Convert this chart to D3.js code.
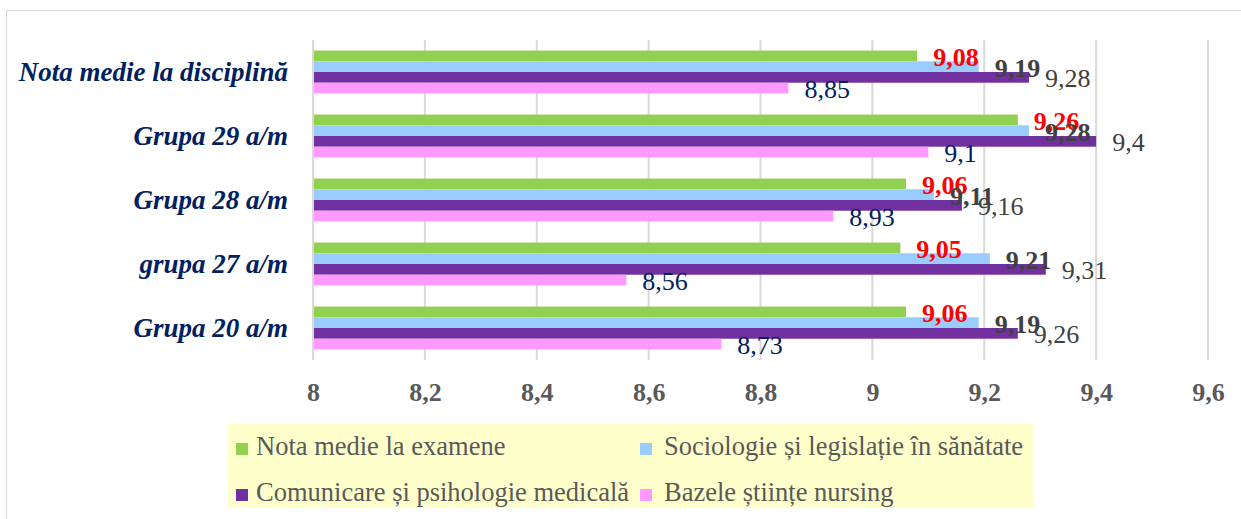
<!DOCTYPE html>
<html>
<head>
<meta charset="utf-8">
<script src="https://cdn.jsdelivr.net/npm/d3@7"></script>
<style>
body { margin: 0; background: #fff; }
text { font-family: "Liberation Serif", "Times New Roman", serif; }
</style>
</head>
<body>
<div id="the_chart"></div>
<script>
// categories, top to bottom
var categories = ["Nota medie la disciplină", "Grupa 29 a/m", "Grupa 28 a/m", "grupa 27 a/m", "Grupa 20 a/m"];
var seriesNames = ["Nota medie la examene", "Sociologie și legislație în sănătate",
                   "Comunicare și psihologie medicală", "Bazele științe nursing"];
var examene    = [9.08, 9.26, 9.06, 9.05, 9.06];
var sociologie = [9.19, 9.28, 9.11, 9.21, 9.19];
var comunicare = [9.28, 9.4, 9.16, 9.31, 9.26];
var bazele     = [8.85, 9.1, 8.93, 8.56, 8.73];
var ticks = [8, 8.2, 8.4, 8.6, 8.8, 9, 9.2, 9.4, 9.6];

var colors = ["#92d050", "#99ccff", "#7030a0", "#ff99ff"];
var labelColors = ["#ff0000", "#404040", "#404040", "#002060"];
var labelWeights = ["bold", "bold", "normal", "normal"];

var series = [examene, sociologie, comunicare, bazele];

var w = 1241, h = 519;
var svg = d3.select("#the_chart").append("svg")
    .attr("width", w).attr("height", h);

// chart border
svg.append("rect")
    .attr("x", 6.5).attr("y", 10.5)
    .attr("width", w).attr("height", h)
    .attr("fill", "none").attr("stroke", "#d9d9d9");

var xscale = d3.scaleLinear().domain([8, 9.6]).range([313, 1208]);
var yscale = d3.scaleBand().domain(categories).range([40, 360])
    .paddingInner(0.33).paddingOuter(0.165);
var inner = d3.scaleBand().domain(d3.range(4)).range([0, yscale.bandwidth()]);

// gridlines
svg.append("g").selectAll("line")
    .data(ticks)
  .enter().append("line")
    .attr("x1", function(d) { return xscale(d); })
    .attr("x2", function(d) { return xscale(d); })
    .attr("y1", 40).attr("y2", 360)
    .attr("stroke", "#d9d9d9").attr("stroke-width", 2);

var fmt = function(d) { return String(d).replace(".", ","); };

// x axis labels
var xaxis = d3.axisBottom(xscale).tickValues(ticks).tickSize(0).tickPadding(0)
    .tickFormat(fmt);
var gX = svg.append("g").attr("transform", "translate(0,383)").call(xaxis);
gX.select(".domain").remove();
gX.selectAll("text")
    .attr("font-family", "Liberation Serif").attr("font-size", 26)
    .attr("font-weight", "bold").attr("fill", "#595959");

// category labels
var yaxis = d3.axisLeft(yscale).tickSize(0).tickPadding(0);
var gY = svg.append("g").attr("transform", "translate(288,0)").call(yaxis);
gY.select(".domain").remove();
gY.selectAll("text")
    .attr("font-family", "Liberation Serif").attr("font-size", 27)
    .attr("font-weight", "bold").attr("font-style", "italic").attr("fill", "#002060");

// bars
series.forEach(function(vals, s) {
    var g = svg.append("g");
    g.selectAll("rect")
        .data(vals)
      .enter().append("rect")
        .attr("x", xscale(8))
        .attr("y", function(d, i) { return yscale(categories[i]) + inner(s); })
        .attr("width", function(d) { return xscale(d) - xscale(8); })
        .attr("height", inner.bandwidth())
        .attr("fill", colors[s]);
});

// axis line
svg.append("line")
    .attr("x1", xscale(8)).attr("x2", xscale(8))
    .attr("y1", 40).attr("y2", 360)
    .attr("stroke", "#d9d9d9").attr("stroke-width", 2);

// data labels (drawn after all bars so they overlap like the original)
series.forEach(function(vals, s) {
    svg.append("g").selectAll("text")
        .data(vals)
      .enter().append("text")
        .attr("x", function(d) { return xscale(d) + 16; })
        .attr("y", function(d, i) { return yscale(categories[i]) + inner(s) + inner.bandwidth() / 2 + 1; })
        .attr("dy", "0.35em")
        .attr("font-size", 26)
        .attr("font-weight", labelWeights[s])
        .attr("fill", labelColors[s])
        .text(fmt);
});

// legend
var legend = svg.append("g");
legend.append("rect")
    .attr("x", 228).attr("y", 424).attr("width", 805).attr("height", 84)
    .attr("fill", "#ffffcc");
var lx = [236, 640], ly = [455, 501];
seriesNames.forEach(function(name, s) {
    var x = lx[s % 2], y = ly[Math.floor(s / 2)];
    legend.append("rect")
        .attr("x", x).attr("y", y - 12).attr("width", 12).attr("height", 12)
        .attr("fill", colors[s]);
    legend.append("text")
        .attr("x", x + (s % 2 ? 24 : 20)).attr("y", y)
        .attr("font-size", 26.5).attr("fill", "#595959")
        .text(name);
});
</script>
</body>
</html>
